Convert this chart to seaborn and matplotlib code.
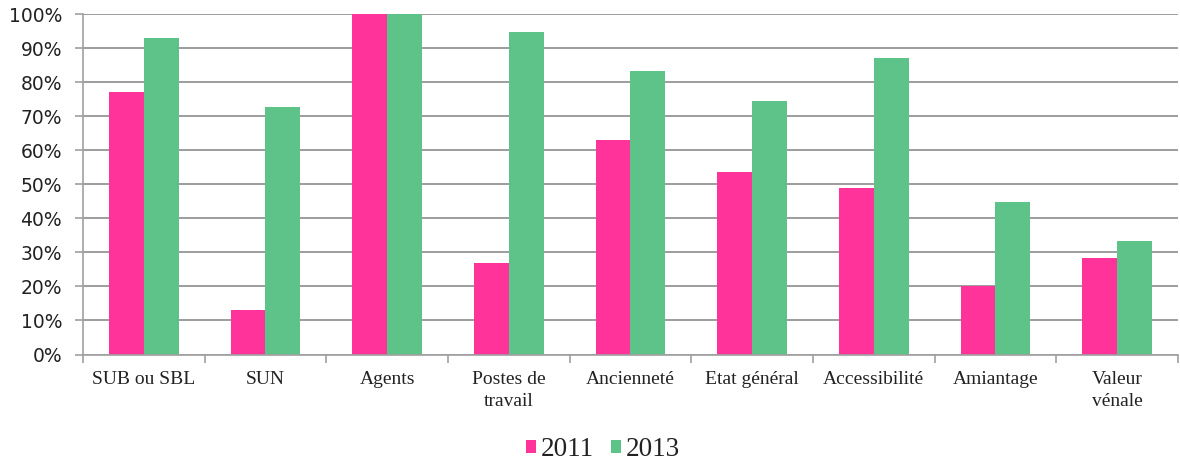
import matplotlib
matplotlib.use("Agg")
import matplotlib.pyplot as plt
import seaborn as sns
import pandas as pd
from matplotlib.ticker import PercentFormatter, FixedLocator

categories = ["SUB ou SBL", "SUN", "Agents", "Postes de\ntravail", "Ancienneté",
              "Etat général", "Accessibilité", "Amiantage", "Valeur\nvénale"]
years = ["2011", "2013"]
values_2011 = [77, 13.2, 100, 27, 63.1, 53.7, 49, 20, 28.4]
values_2013 = [93, 72.7, 100, 94.7, 83.2, 74.6, 87, 44.7, 33.3]
colors = ["#FF3399", "#5EC388"]

df = pd.DataFrame({
    "cat": categories * 2,
    "year": [years[0]] * len(categories) + [years[1]] * len(categories),
    "val": values_2011 + values_2013,
})

sns.set_theme(style="white")
plt.rcParams["font.family"] = ["Liberation Serif", "DejaVu Serif"]

fig = plt.figure(figsize=(11.8, 4.61), dpi=100)
ax = fig.add_axes([0.0703, 0.231, 0.928, 0.7386])

sns.barplot(data=df, x="cat", y="val", hue="year", palette=colors,
            width=0.571, gap=0, ax=ax, saturation=1, edgecolor="none",
            legend=True)

ax.set_ylim(0, 100)
ax.set_xlim(-0.5, len(categories) - 0.5)
ax.set_yticks(range(0, 101, 10))
ax.yaxis.set_major_formatter(PercentFormatter(decimals=0))
ax.yaxis.grid(True, color="#8c8c8c", linewidth=1.2)
ax.set_axisbelow(True)
ax.set_xlabel("")
ax.set_ylabel("")

for s in ["top", "right"]:
    ax.spines[s].set_visible(False)
for s in ["left", "bottom"]:
    ax.spines[s].set_color("#a0a0a0")
    ax.spines[s].set_linewidth(1.2)

ax.tick_params(axis="y", which="major", length=6, color="#a0a0a0", width=1.2,
               labelsize=13.5, labelcolor="#222222", pad=9, left=True)
for lbl in ax.get_yticklabels():
    lbl.set_fontfamily(["DejaVu Sans"])
ax.tick_params(axis="x", which="major", length=0, labelsize=14,
               labelcolor="#222222", pad=12)
for lbl in ax.get_xticklabels():
    lbl.set_linespacing(1.35)
ax.xaxis.set_minor_locator(FixedLocator([i - 0.5 for i in range(len(categories) + 1)]))
ax.tick_params(axis="x", which="minor", length=6, color="#a0a0a0", width=1.2,
               bottom=True)

handles, labels = ax.get_legend_handles_labels()
ax.get_legend().remove()
fig.legend(handles, labels, loc="lower center", bbox_to_anchor=(0.511, -0.055),
           ncol=2, frameon=False, fontsize=19.5, handlelength=0.37, handleheight=0.37,
           handletextpad=0.2, columnspacing=0.6, labelcolor="#222222")

fig.savefig("out.png", dpi=100)
